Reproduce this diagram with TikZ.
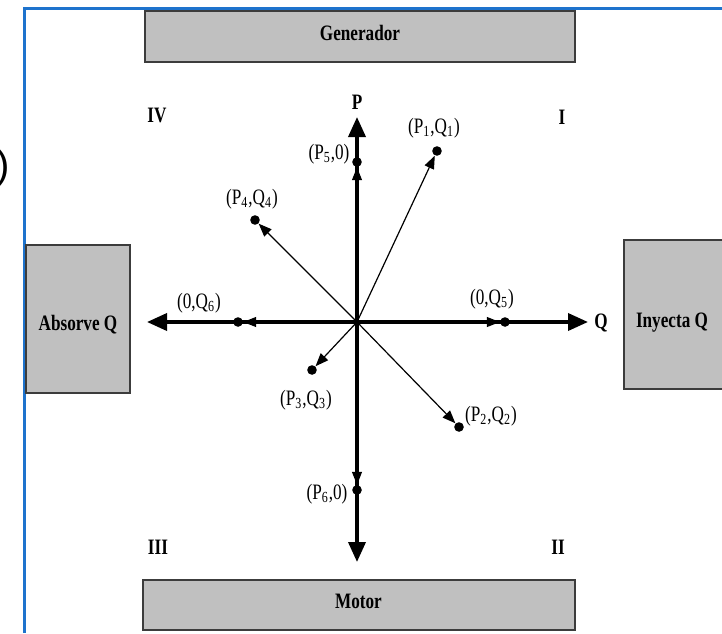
\documentclass[tikz,border=0pt]{standalone}
\usepackage{fontspec}
\setmainfont{Liberation Serif}[FakeStretch=0.78]
\newfontfamily\sansparen{Liberation Sans}
\usepackage{xcolor}
\usepackage{tikz}
\usetikzlibrary{arrows.meta, positioning}
\definecolor{cajagris}{RGB}{192,192,192}
\definecolor{bordecaja}{RGB}{60,60,60}
\definecolor{marcoazul}{RGB}{30,115,205}

\begin{document}
\begin{tikzpicture}[x=0.5pt, y=-0.5pt,
			caja/.style={rectangle, draw=bordecaja, line width=1pt, fill=cajagris, inner sep=0pt, text depth=3.5pt, font=\fontsize{11}{13}\selectfont\bfseries},
			cajatexto/.style={inner sep=0pt, font=\fontsize{11}{13}\selectfont\bfseries},
			eje/.style={line width=1.8pt, -{Triangle[length=10pt, width=8.5pt]}},
			vector/.style={line width=0.6pt, -{Triangle[length=6.5pt, width=5pt]}},
			punto/.style={circle, fill, minimum size=4.8pt, inner sep=0pt},
			etiqueta/.style={inner sep=0pt, font=\fontsize{11}{13}\selectfont},
			cuadrante/.style={inner sep=0pt, font=\fontsize{11}{13}\selectfont\bfseries}
			]
			\useasboundingbox (0,0) rectangle (722,633);
			
			% Marco de la diapositiva
			\draw[marcoazul, line width=1.5pt] (24.5,633) -- (24.5,8) -- (722,8);
			\node[anchor=east, inner sep=0pt, font=\sansparen\fontsize{20}{22}\selectfont] (parentesis) at (10,168) {)};
			
			% Cajas
			\node[caja, minimum width=215pt, minimum height=25.5pt] (generador) at (360,36.5) {Generador};
			\node[caja, minimum width=216pt, minimum height=25pt] (motor) at (358.5,605) {Motor};
			\node[caja, minimum width=52pt, minimum height=74pt,
				label={[cajatexto, yshift=-3pt]center:Absorve Q}] (absorve) at (78,319) {};
			\node[caja, minimum width=52pt, minimum height=74.5pt,
				label={[cajatexto, xshift=-2pt, yshift=-4pt]center:Inyecta Q}] (inyecta) at (676,314.5) {};
			
			% Ejes P y Q
			\coordinate (O) at (357,322);
			\coordinate (Parriba) at (357,117);
			\coordinate (Pabajo) at (357,562);
			\coordinate (Qizq) at (147,322);
			\coordinate (Qder) at (588,322);
			\draw[eje] (O) -- (Parriba);
			\draw[eje] (O) -- (Pabajo);
			\draw[eje] (O) -- (Qizq);
			\draw[eje] (O) -- (Qder);
			\node[cuadrante] (ejeP) at (357,102) {P};
			\node[cuadrante] (ejeQ) at (601,323) {Q};
			
			% Cuadrantes
			\node[cuadrante] (cI) at (562,117) {I};
			\node[cuadrante] (cII) at (558,547) {II};
			\node[cuadrante] (cIII) at (158,547) {III};
			\node[cuadrante] (cIV) at (157,115) {IV};
			
			% Puntos de operacion y vectores
			\foreach \n/\x/\y in {1/437/151, 2/459/427, 3/312/370, 4/255/220, 5/357/162, 6/357/490, q5/505/322, q6/238/322} {
				\node[punto] (p\n) at (\x,\y) {};
				\draw[vector] (O) -- (p\n);
			}
			\node[etiqueta] (e1) at (434,128) {(P\textsubscript{1},Q\textsubscript{1})};
			\node[etiqueta] (e2) at (491,416) {(P\textsubscript{2},Q\textsubscript{2})};
			\node[etiqueta] (e3) at (306,400) {(P\textsubscript{3},Q\textsubscript{3})};
			\node[etiqueta] (e4) at (252,199) {(P\textsubscript{4},Q\textsubscript{4})};
			\node[etiqueta] (e5) at (329,154) {(P\textsubscript{5},0)};
			\node[etiqueta] (e6) at (327,494) {(P\textsubscript{6},0)};
			\node[etiqueta] (eq5) at (492,299) {(0,Q\textsubscript{5})};
			\node[etiqueta] (eq6) at (199,303) {(0,Q\textsubscript{6})};
			
		\end{tikzpicture}
\end{document}
